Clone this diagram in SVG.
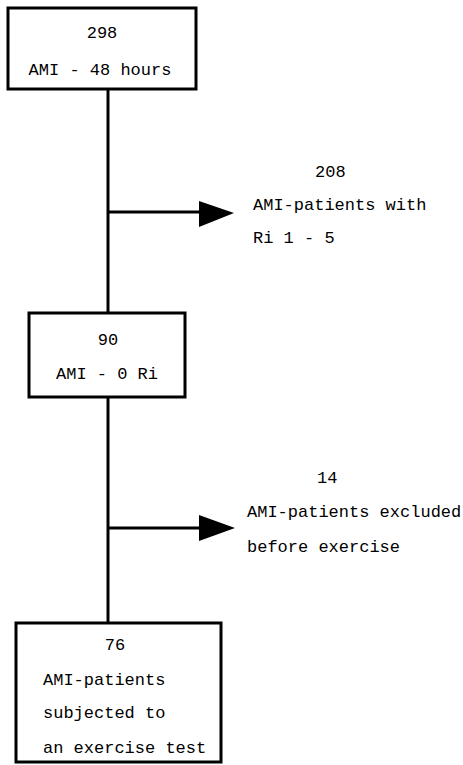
<svg xmlns="http://www.w3.org/2000/svg" width="463" height="765" viewBox="0 0 463 765">
<style>
.box{fill:#fff;stroke:#000;stroke-width:3}
.ln{stroke:#000;stroke-width:3;fill:none}
.head{fill:#000}
text{font-family:"Liberation Mono","DejaVu Sans Mono",monospace;font-size:17px;fill:#000}
.c{text-anchor:middle}
</style>
<rect width="463" height="765" fill="#fff"/>
<g id="connectors">
<line class="ln" x1="108" y1="89" x2="108" y2="313"/>
<line class="ln" x1="108" y1="397" x2="108" y2="623"/>
<line class="ln" x1="108" y1="212" x2="201" y2="212"/>
<polygon class="head" points="199,201 234,213 199,227"/>
<line class="ln" x1="108" y1="528" x2="201" y2="528"/>
<polygon class="head" points="199,515 235,528 199,541"/>
</g>
<g id="n298">
<rect class="box" x="8" y="8" width="188" height="81"/>
<text class="c" x="102" y="38">298</text>
<text class="c" x="100" y="75">AMI - 48 hours</text>
</g>
<g id="n90">
<rect class="box" x="29" y="313" width="156" height="84"/>
<text class="c" x="108" y="345">90</text>
<text class="c" x="107" y="379">AMI - 0 Ri</text>
</g>
<g id="n76">
<rect class="box" x="16" y="623" width="205" height="139"/>
<text class="c" x="115" y="650">76</text>
<text x="43" y="685">AMI-patients</text>
<text x="43" y="718">subjected to</text>
<text x="43" y="753">an exercise test</text>
</g>
<g id="n208">
<text x="315" y="177">208</text>
<text x="253" y="210">AMI-patients with</text>
<text x="253" y="243">Ri 1 - 5</text>
</g>
<g id="n14">
<text x="317" y="483">14</text>
<text x="247" y="517">AMI-patients excluded</text>
<text x="247" y="552">before exercise</text>
</g>
</svg>
